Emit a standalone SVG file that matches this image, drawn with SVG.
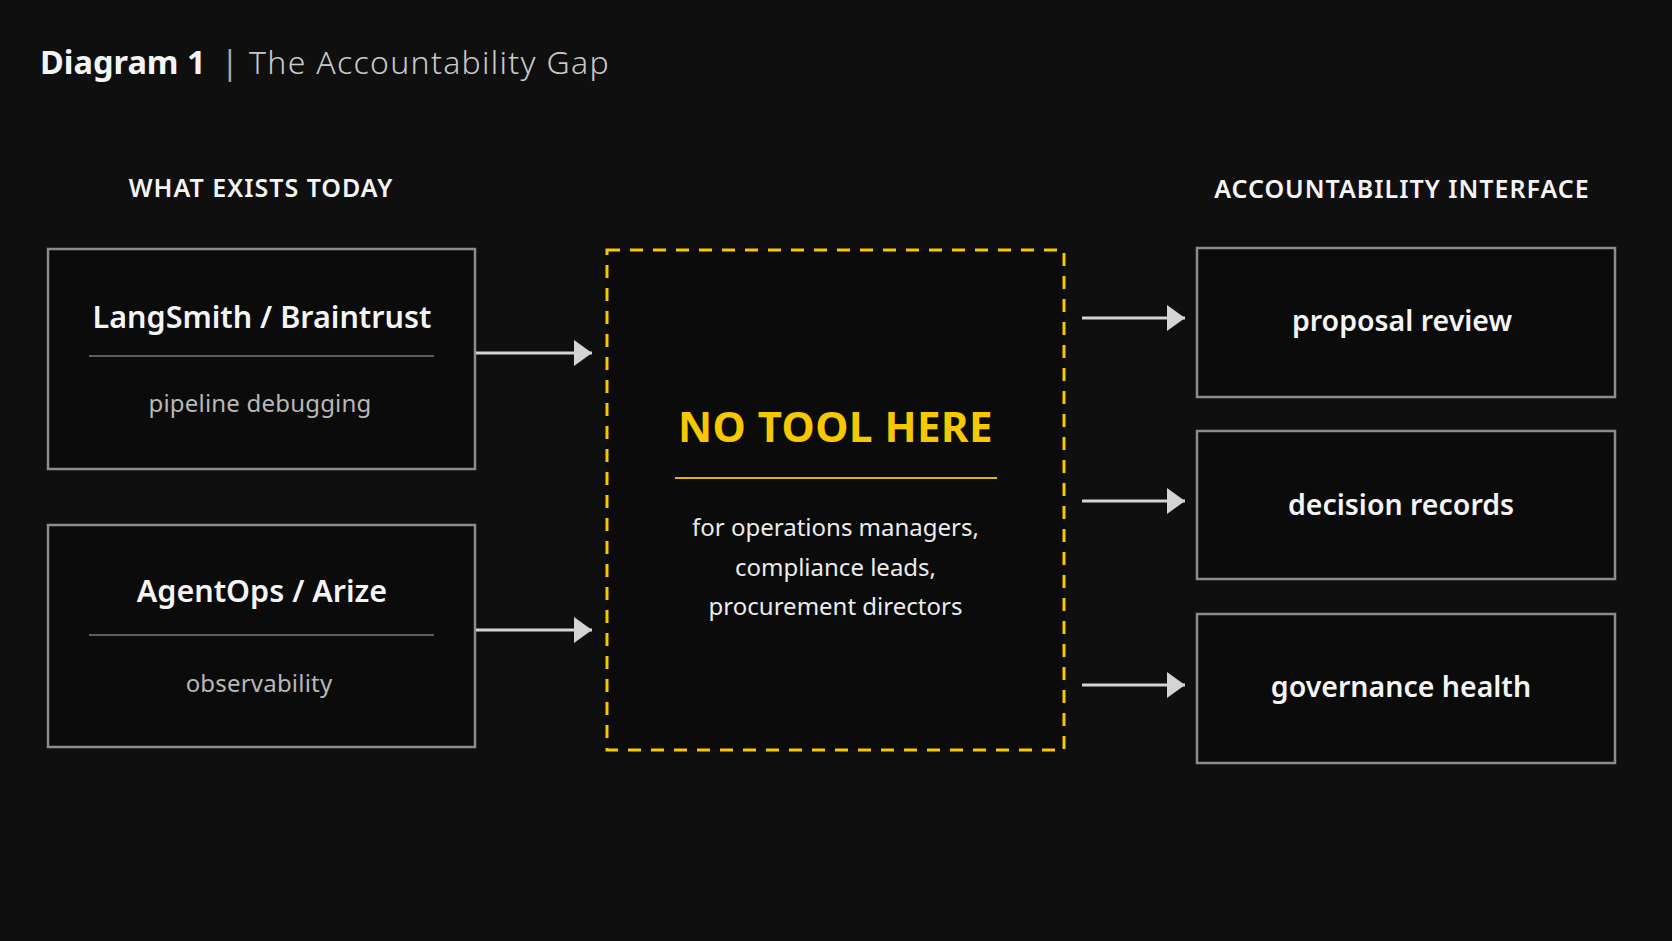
<svg xmlns="http://www.w3.org/2000/svg" width="1672" height="941" viewBox="0 0 1672 941">
<defs>
<style>
text { font-family: "Noto Sans", "Open Sans", "Liberation Sans", sans-serif; }
.box { fill: #0b0b0b; stroke: #8c8c8c; stroke-width: 2.5; }
.div { stroke: #7a7a7a; stroke-width: 1.5; }
.ttl { fill: #f4f4f4; font-size: 30.5px; font-weight: 600; text-anchor: middle; }
.sub { fill: #b8b8b8; font-size: 24px; font-weight: 400; text-anchor: middle; letter-spacing: 0.2px; }
.hdr { fill: #f4f4f4; font-size: 25px; font-weight: 600; text-anchor: middle; letter-spacing: 1px; }
.rt { fill: #f4f4f4; font-size: 28.5px; font-weight: 600; text-anchor: middle; }
.body { fill: #ececec; font-size: 24px; font-weight: 400; text-anchor: middle; }
.conn { stroke: #d4d4d4; stroke-width: 3; fill: none; marker-end: url(#ah); }
</style>
<marker id="ah" markerUnits="userSpaceOnUse" markerWidth="20" markerHeight="28" refX="18" refY="13" orient="auto">
<polygon points="0,0 18,13 0,26" fill="#d4d4d4"/>
</marker>
</defs>
<rect width="1672" height="941" fill="#0f0f0f"/>

<g id="title">
<text x="40" y="74" style="font-size:32.5px;font-weight:700;fill:#f4f4f4">Diagram 1</text>
<text x="221" y="74" style="font-size:32px;font-weight:400;fill:#a8a8a8">|</text>
<text x="249" y="74" style="font-size:32px;font-weight:300;fill:#c8c8c8;letter-spacing:1.3px">The Accountability Gap</text>
</g>

<g id="hdr-left"><text class="hdr" x="261" y="197">WHAT EXISTS TODAY</text></g>
<g id="hdr-right"><text class="hdr" x="1402" y="198">ACCOUNTABILITY INTERFACE</text></g>

<g id="node-langsmith">
<rect class="box" x="48" y="249" width="427" height="220"/>
<text class="ttl" x="262" y="328">LangSmith / Braintrust</text>
<line class="div" x1="89" y1="356" x2="434" y2="356"/>
<text class="sub" x="260" y="412">pipeline debugging</text>
</g>

<g id="node-agentops">
<rect class="box" x="48" y="525" width="427" height="222"/>
<text class="ttl" x="262" y="602">AgentOps / Arize</text>
<line class="div" x1="89" y1="635" x2="434" y2="635"/>
<text class="sub" x="259" y="692">observability</text>
</g>

<g id="node-gap">
<rect x="607" y="250" width="457" height="500" fill="#0b0b0b" stroke="#f5c800" stroke-width="3" stroke-dasharray="13 10"/>
<text x="835.5" y="442" style="font-size:42px;font-weight:700;fill:#f5c800;text-anchor:middle;letter-spacing:0.5px">NO TOOL HERE</text>
<line x1="675" y1="478" x2="997" y2="478" stroke="#e0b400" stroke-width="2"/>
<text class="body" x="835.5" y="536">for operations managers,</text>
<text class="body" x="835.5" y="576">compliance leads,</text>
<text class="body" x="835.5" y="615">procurement directors</text>
</g>

<g id="node-proposal">
<rect class="box" x="1197" y="248" width="418" height="149"/>
<text class="rt" x="1402" y="331">proposal review</text>
</g>
<g id="node-decision">
<rect class="box" x="1197" y="431" width="418" height="148"/>
<text class="rt" x="1401" y="515">decision records</text>
</g>
<g id="node-governance">
<rect class="box" x="1197" y="614" width="418" height="149"/>
<text class="rt" x="1401" y="697">governance health</text>
</g>

<g id="connectors">
<line class="conn" x1="476" y1="353" x2="592" y2="353"/>
<line class="conn" x1="476" y1="630" x2="592" y2="630"/>
<line class="conn" x1="1082" y1="318" x2="1185" y2="318"/>
<line class="conn" x1="1082" y1="501" x2="1185" y2="501"/>
<line class="conn" x1="1082" y1="685" x2="1185" y2="685"/>
</g>
</svg>
